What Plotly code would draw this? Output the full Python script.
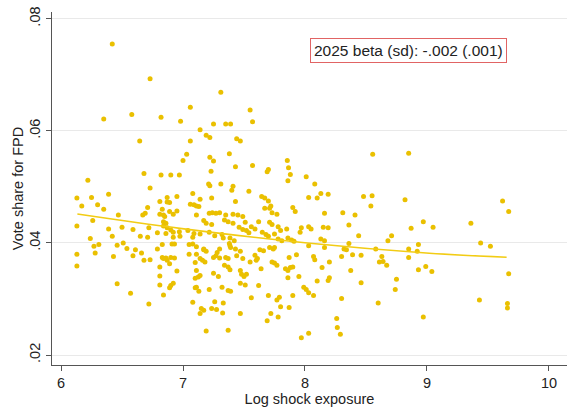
import plotly.graph_objects as go

# Scatter data: (log shock exposure, vote share for FPD)
pts = [
    # x < 7.15
    (6.42,0.0755),(6.73,0.0693),(6.35,0.0621),(6.58,0.0629),(6.82,0.0624),(6.98,0.0617),(7.06,0.0642),
    (6.645,0.0582),(7.06,0.0582),(7.03,0.0558),(7.0,0.0547),(6.68,0.0524),(6.82,0.0521),(6.90,0.0521),
    (6.97,0.0521),(6.22,0.0512),(6.73,0.0498),(6.39,0.0487),(6.13,0.0480),(6.25,0.0481),(6.87,0.0481),
    (6.95,0.0483),(7.08,0.0488),(6.17,0.0466),(6.30,0.0468),(6.35,0.0460),(6.81,0.0474),(6.87,0.0473),
    (6.71,0.0463),(6.69,0.0453),(6.67,0.0450),(6.47,0.0450),(6.81,0.0451),(6.84,0.0450),(6.92,0.0451),
    (6.86,0.0435),(6.13,0.0430),(6.26,0.0440),(6.39,0.0425),(6.50,0.0428),(6.59,0.0424),(6.72,0.0427),
    (6.65,0.0412),(6.71,0.0410),(6.79,0.0418),(6.86,0.0417),(6.92,0.0410),(6.97,0.0420),(7.04,0.0422),
    (7.09,0.0417),(6.24,0.0408),(6.42,0.0412),(6.27,0.0394),(6.31,0.0397),(6.46,0.0396),(6.54,0.0390),
    (6.61,0.0388),(6.28,0.0382),(6.13,0.0380),(6.43,0.0376),(6.59,0.0377),(6.68,0.0369),(6.73,0.0370),
    (6.79,0.0389),(6.83,0.0374),(6.86,0.0373),(6.90,0.0374),(6.93,0.0373),(6.13,0.0359),(6.81,0.0357),
    (6.89,0.0363),(6.95,0.0350),(7.05,0.0380),(7.10,0.0365),(6.46,0.0327),(6.81,0.0341),(6.81,0.0325),
    (6.90,0.0324),(6.92,0.0328),(6.89,0.0320),(6.84,0.0307),(6.57,0.0310),(6.72,0.0291),(7.08,0.0294),
    (7.10,0.0337),(7.10,0.0320),(7.14,0.0274),(6.51,0.0400),(6.66,0.0382),
    # upper 7.0 - 7.9
    (7.31,0.0669),(7.55,0.0637),(7.57,0.0616),(7.25,0.0612),(7.35,0.0612),(7.39,0.0612),(7.14,0.0602),
    (7.19,0.0592),(7.22,0.0588),(7.44,0.0586),(7.47,0.0582),(7.38,0.0559),(7.22,0.0553),(7.25,0.0546),
    (7.43,0.0536),(7.57,0.0538),(7.23,0.0528),(7.21,0.0505),(7.22,0.0502),(7.31,0.0505),(7.41,0.0501),
    (7.40,0.0494),(7.54,0.0492),(7.69,0.0527),(7.70,0.0531),(7.855,0.0547),(7.865,0.0534),(7.88,0.0522),
    (7.86,0.0511),(7.14,0.0478),(7.235,0.0480),(7.645,0.0483),(7.67,0.0480),
    # dense 6.8 - 7.55
    (6.89,0.0472),(7.43,0.0474),(7.06,0.0469),(7.09,0.0468),(7.11,0.0466),(7.13,0.0465),(6.83,0.0460),
    (6.89,0.0456),(6.95,0.0457),(7.215,0.0453),(7.24,0.0454),(7.27,0.0453),(7.30,0.0454),(7.11,0.0450),
    (7.35,0.0450),(7.41,0.0451),(7.45,0.0450),(7.49,0.0447),(6.85,0.0447),(6.84,0.0438),(7.17,0.0440),
    (7.19,0.0435),(7.235,0.0433),(7.34,0.0441),(7.37,0.0438),(7.41,0.0435),(7.46,0.0428),(7.49,0.0424),
    (7.52,0.0422),(7.54,0.0418),(6.84,0.0430),(6.87,0.0427),(6.90,0.0423),(6.92,0.0419),(7.14,0.0416),
    (7.215,0.0419),(7.26,0.0413),(7.32,0.0415),(6.975,0.0412),(7.08,0.0410),(7.33,0.0409),(7.385,0.0409),
    (7.42,0.0404),(6.83,0.0397),(6.91,0.0398),(6.93,0.0398),(7.05,0.0397),(7.08,0.0398),(7.11,0.0393),
    (7.38,0.0399),(7.39,0.0392),(7.385,0.0395),(7.17,0.0389),(7.19,0.0385),(7.17,0.0388),(7.30,0.0389),
    (7.28,0.0383),(7.43,0.0389),(7.47,0.0385),(7.11,0.0380),(7.14,0.0372),(7.16,0.0369),(7.18,0.0366),
    (7.25,0.0374),(7.27,0.0377),(7.30,0.0373),(7.35,0.0374),(7.37,0.0372),(7.44,0.0377),(7.49,0.0372),
    (6.84,0.0372),(6.87,0.0369),(7.11,0.0351),(7.34,0.0360),(7.37,0.0357),(7.385,0.0352),(7.47,0.0351),
    (7.48,0.0344),(7.50,0.0340),(7.25,0.0346),(7.29,0.0340),(7.125,0.0339),(7.14,0.0342),(7.11,0.0321),
    (7.13,0.0314),(7.215,0.0317),(7.32,0.0321),(7.37,0.0315),(7.39,0.0314),(7.47,0.0328),(7.51,0.0325),
    (7.26,0.0295),(7.33,0.0293),(7.15,0.0283),(7.17,0.0280),(7.235,0.0283),(7.275,0.0281),(7.325,0.0275),
    (7.47,0.0274),(7.19,0.0243),(7.37,0.0244),
    # 7.5 - 8.2
    (8.01,0.0518),(8.08,0.0505),(8.13,0.0488),(8.19,0.0487),(8.03,0.0481),(8.10,0.0480),(7.70,0.0475),
    (7.72,0.0466),(7.71,0.0462),(7.73,0.0454),(7.67,0.0462),(7.77,0.0451),(7.90,0.0463),(7.92,0.0456),
    (8.16,0.0453),(7.51,0.0437),(7.62,0.0438),(7.71,0.0437),(7.73,0.0433),(7.78,0.0429),(7.80,0.0422),
    (7.56,0.0429),(7.59,0.0425),(7.85,0.0425),(7.65,0.0419),(7.68,0.0415),(7.70,0.0412),(7.75,0.0416),
    (7.97,0.0427),(8.03,0.0429),(8.05,0.0425),(8.15,0.0428),(8.19,0.0427),(7.96,0.0419),(7.86,0.0409),
    (7.89,0.0405),(7.91,0.0403),(8.13,0.0407),(8.16,0.0404),(7.78,0.0407),(7.81,0.0404),(8.16,0.0392),
    (8.03,0.0395),(7.71,0.0392),(7.74,0.0389),(7.75,0.0392),(7.66,0.0386),(7.63,0.0388),(7.59,0.0378),
    (7.61,0.0372),(7.60,0.0369),(7.55,0.0366),(7.73,0.0366),(7.75,0.0364),(7.77,0.0360),(7.87,0.0374),
    (7.93,0.0379),(8.07,0.0376),(8.08,0.0370),(8.20,0.0366),(7.84,0.0354),(7.86,0.0351),(7.88,0.0356),
    (7.90,0.0357),(7.64,0.0354),(7.52,0.0344),(7.86,0.0338),(7.95,0.0340),(8.14,0.0356),(8.19,0.0333),
    (8.20,0.0338),(8.10,0.0332),(7.62,0.0324),(7.99,0.0321),(8.01,0.0317),(8.03,0.0311),(8.07,0.0306),
    (7.56,0.0302),(7.70,0.0306),(7.79,0.0303),(7.77,0.0298),(7.90,0.0306),(7.80,0.0286),(7.87,0.0285),
    (7.72,0.0274),(7.78,0.0268),(7.69,0.0261),(7.97,0.0231),(8.03,0.0239),
    # x > 8.2
    (8.555,0.0558),(8.85,0.0560),(8.48,0.0483),(8.55,0.0484),(8.54,0.0466),(8.82,0.0477),(8.31,0.0454),
    (8.41,0.0450),(8.36,0.0432),(8.97,0.0438),(8.87,0.0426),(8.44,0.0413),(8.71,0.0413),(8.68,0.0404),
    (8.93,0.0397),(8.36,0.0399),(8.58,0.0389),(8.85,0.0389),(8.92,0.0385),(8.32,0.0389),(8.34,0.0388),
    (8.39,0.0379),(8.46,0.0378),(8.30,0.0376),(8.63,0.0376),(8.85,0.0374),(8.61,0.0366),(8.64,0.0367),
    (8.67,0.0360),(8.375,0.0351),(8.93,0.0352),(8.99,0.0358),(8.75,0.0335),(8.74,0.0317),(8.46,0.0329),
    (8.30,0.0301),(8.60,0.0293),(8.26,0.0265),(8.265,0.0249),(8.29,0.0237),(8.97,0.0268),(9.62,0.0475),
    (9.67,0.0456),(9.05,0.0428),(9.36,0.0435),(9.44,0.0400),(9.52,0.0394),(9.04,0.0349),(9.67,0.0345),
    (9.43,0.0298),(9.66,0.0292),(9.66,0.0284),
]
x_vals = [p[0] for p in pts]
y_vals = [p[1] for p in pts]

# Fitted curve
fit_x = [6.134, 6.975, 8.04, 9.02, 9.653]
fit_y = [0.04516, 0.0426, 0.03994, 0.03816, 0.03745]

y_ticks = [0.02, 0.04, 0.06, 0.08]
y_ticktext = [".02", ".04", ".06", ".08"]
x_ticks = [6, 7, 8, 9, 10]
note_text = "2025 beta (sd): -.002 (.001)"

gold = "rgb(234,192,0)"
font_family = "Liberation Sans, Arial, sans-serif"

fig = go.Figure()
fig.add_trace(go.Scatter(
    x=x_vals, y=y_vals, mode="markers",
    marker=dict(color=gold, size=5, line=dict(width=0)),
    showlegend=False,
))
fig.add_trace(go.Scatter(
    x=fit_x, y=fit_y, mode="lines", line=dict(color="rgb(242,204,20)", width=1.6, shape="spline"),
    showlegend=False,
))

fig.add_annotation(
    x=8.848, y=0.07432, xref="x", yref="y", text=note_text, showarrow=False,
    font=dict(family=font_family, size=15.5, color="#222"),
    bordercolor="rgb(225,100,100)", borderwidth=1, borderpad=3, bgcolor="white",
)

fig.update_layout(
    width=573, height=410,
    margin=dict(l=52, r=6, t=10, b=45),
    paper_bgcolor="white", plot_bgcolor="white",
    font=dict(family=font_family, size=14.5, color="#222"),
    xaxis=dict(
        range=[5.926, 10.148], tickvals=x_ticks, ticks="outside", ticklen=5, tickcolor="#555",
        showline=True, linecolor="#555", linewidth=1, showgrid=False, zeroline=False,
        title=dict(text="Log shock exposure", font=dict(size=14.5), standoff=1),
        tickfont=dict(size=14.5),
    ),
    yaxis=dict(
        range=[0.01822, 0.0812], tickvals=y_ticks, ticktext=y_ticktext, tickangle=-90,
        ticks="outside", ticklen=5, tickcolor="#555",
        showline=True, linecolor="#555", linewidth=1, showgrid=True, gridcolor="#e9e9e9",
        zeroline=False, title=dict(text="Vote share for FPD", font=dict(size=14.5), standoff=0),
        tickfont=dict(size=14.5),
    ),
)

fig.write_html("out.html")
